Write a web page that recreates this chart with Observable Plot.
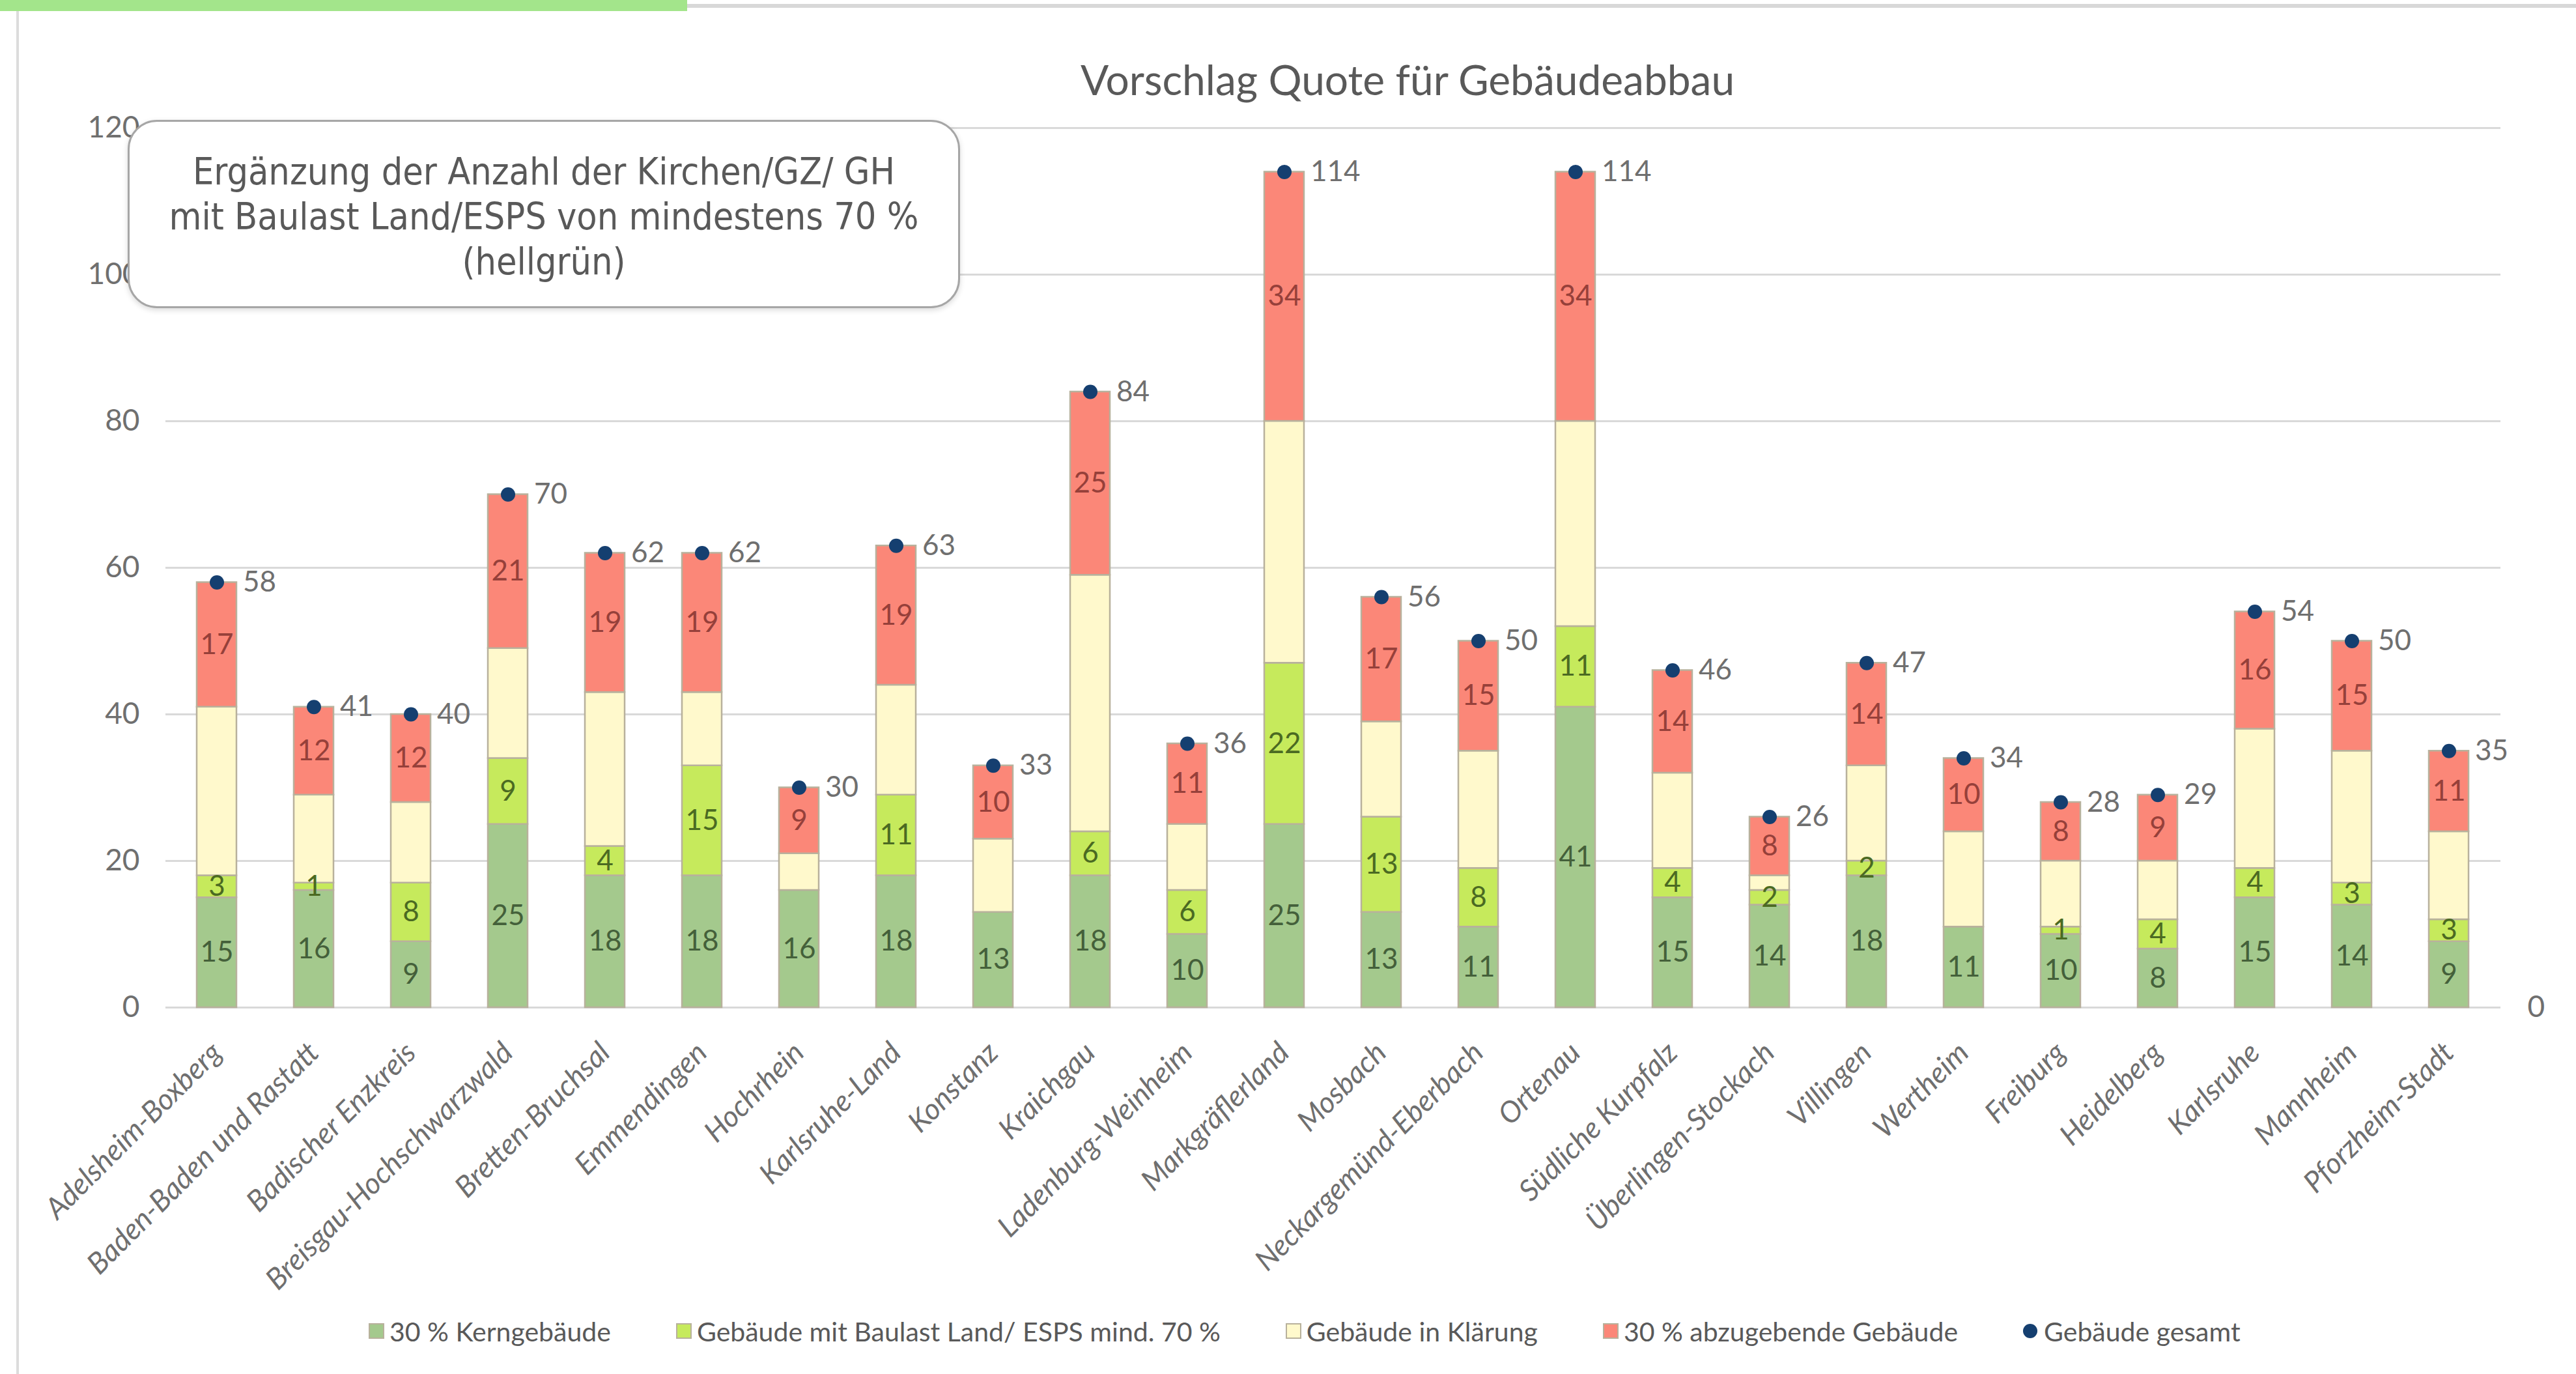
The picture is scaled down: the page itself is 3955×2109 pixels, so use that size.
<!DOCTYPE html>
<html><head><meta charset="utf-8">
<script src="https://cdn.jsdelivr.net/npm/d3@7"></script>
<script src="https://cdn.jsdelivr.net/npm/@observablehq/plot@0.6"></script>
<style>
html,body{margin:0;padding:0;background:#fff;}
#wrap{position:relative;width:3955px;height:2109px;overflow:hidden;font-family:Lato,sans-serif;background:#fff;}
#wrap svg{position:absolute;left:0;top:0;}
.deco{position:absolute;}
#title{position:absolute;left:2161px;top:90px;transform:translateX(-50%);font-size:64px;line-height:1;color:#595959;white-space:nowrap;}
#note{position:absolute;left:196px;top:184px;width:1278px;height:289px;box-sizing:border-box;border:3px solid #a6a6a6;border-radius:45px;background:#fff;box-shadow:0 3px 8px rgba(0,0,0,0.15);text-align:center;padding-top:42px;font-family:"DejaVu Sans Condensed","DejaVu Sans",sans-serif;font-size:57px;line-height:69px;color:#595959;white-space:nowrap;}
#legend{position:absolute;left:566px;top:2020px;height:46px;display:flex;align-items:center;gap:100px;font-size:41px;color:#595959;white-space:nowrap;}
.li{display:flex;align-items:center;}
.sw{width:24px;height:24px;box-sizing:border-box;margin-right:8px;}
.dot{width:22px;height:22px;border-radius:50%;margin-right:10px;}
</style></head>
<body><div id="wrap"></div>
<script>
const regions = ["Adelsheim-Boxberg","Baden-Baden und Rastatt","Badischer Enzkreis","Breisgau-Hochschwarzwald","Bretten-Bruchsal","Emmendingen","Hochrhein","Karlsruhe-Land","Konstanz","Kraichgau","Ladenburg-Weinheim","Markgräflerland","Mosbach","Neckargemünd-Eberbach","Ortenau","Südliche Kurpfalz","Überlingen-Stockach","Villingen","Wertheim","Freiburg","Heidelberg","Karlsruhe","Mannheim","Pforzheim-Stadt"];
const kern      = [15,16, 9,25,18,18,16,18,13,18,10,25,13,11,41,15,14,18,11,10, 8,15,14, 9];
const baulast   = [ 3, 1, 8, 9, 4,15, 0,11, 0, 6, 6,22,13, 8,11, 4, 2, 2, 0, 1, 4, 4, 3, 3];
const klaerung  = [23,12,11,15,21,10, 5,15,10,35, 9,33,13,16,28,13, 2,13,13, 9, 8,19,18,12];
const abzugeben = [17,12,12,21,19,19, 9,19,10,25,11,34,17,15,34,14, 8,14,10, 8, 9,16,15,11];
const gesamt    = [58,41,40,70,62,62,30,63,33,84,36,114,56,50,114,46,26,47,34,28,29,54,50,35];
const seriesNames = ["30 % Kerngebäude","Gebäude mit Baulast Land/ ESPS mind. 70 %","Gebäude in Klärung","30 % abzugebende Gebäude"];
const seriesColors = ["#A4C98D","#C6EA5C","#FFF9CC","#FB8778"];
const labelColors = ["#44603a","#4b6a22","#4a4a4a","#96403a"];
const segmentStroke = "#b8b19c";
const totalName = "Gebäude gesamt";
const totalColor = "#153F70";
const yTicks = [0,20,40,60,80,100,120];
const chartTitle = "Vorschlag Quote für Gebäudeabbau";
const noteLines = ["Ergänzung der Anzahl der Kirchen/GZ/ GH","mit Baulast Land/ESPS von mindestens 70 %","(hellgrün)"];

const seriesValues = [kern, baulast, klaerung, abzugeben];
const rows = [];
regions.forEach((r, i) => seriesNames.forEach((s, j) => rows.push({
  region: r, series: s, value: seriesValues[j][i],
  fill: seriesColors[j], labelColor: labelColors[j],
  labeled: j !== 2 && seriesValues[j][i] > 0
})));
const totals = regions.map((r, i) => ({region: r, total: gesamt[i]}));

const chart = Plot.plot({
  width: 3955, height: 2109,
  marginLeft: 254, marginRight: 116, marginTop: 196, marginBottom: 563,
  style: {fontFamily: "Lato, sans-serif", fontSize: "44px", color: "#595959", background: "transparent", overflow: "visible"},
  x: {domain: regions, paddingInner: 0.59, paddingOuter: 0.295, label: null},
  y: {domain: [0, 120], label: null},
  color: {type: "identity"},
  marks: [
    Plot.ruleY(yTicks, {stroke: "#D9D9D9", strokeWidth: 3}),
    Plot.axisY({ticks: yTicks, tickSize: 0, tickPadding: 40, fontSize: 46, fill: "#6f6f6f", label: null}),
    Plot.axisY({anchor: "right", ticks: [0], tickSize: 0, tickPadding: 41, fontSize: 46, fill: "#6f6f6f", label: null}),
    Plot.axisX({tickRotate: -45, tickSize: 0, tickPadding: 62, fontStyle: "italic", fontSize: 45, fill: "#6f6f6f", label: null}),
    Plot.barY(rows, {x: "region", y: "value", z: "series", order: seriesNames, fill: "fill", stroke: segmentStroke, strokeWidth: 2.5}),
    Plot.text(rows, Plot.stackY({x: "region", y: "value", z: "series", order: seriesNames,
      text: d => d.labeled ? String(d.value) : null, fill: "labelColor", fontSize: 44})),
    Plot.dot(totals, {x: "region", y: "total", r: 11, fill: totalColor}),
    Plot.text(totals, {x: "region", y: "total", text: d => String(d.total), dx: 40, textAnchor: "start", fill: "#6f6f6f", fontSize: 44})
  ]
});

const wrap = document.getElementById("wrap");
const d1 = document.createElement("div"); d1.className = "deco";
Object.assign(d1.style, {left: "0px", top: "0px", width: "1055px", height: "17px", background: "#A3E58B"});
const d2 = document.createElement("div"); d2.className = "deco";
Object.assign(d2.style, {left: "1055px", top: "6px", width: "2900px", height: "6px", background: "#d8d8d8"});
const d3 = document.createElement("div"); d3.className = "deco";
Object.assign(d3.style, {left: "25px", top: "17px", width: "4px", height: "2092px", background: "#dcdcdc"});
wrap.append(d1, d2, d3);
wrap.appendChild(chart);

const title = document.createElement("div");
title.id = "title"; title.textContent = chartTitle;
wrap.appendChild(title);

const note = document.createElement("div");
note.id = "note";
noteLines.forEach(t => { const l = document.createElement("div"); l.textContent = t; note.appendChild(l); });
wrap.appendChild(note);

const legend = document.createElement("div");
legend.id = "legend";
seriesNames.forEach((s, j) => {
  const it = document.createElement("div"); it.className = "li";
  const sw = document.createElement("span"); sw.className = "sw";
  sw.style.background = seriesColors[j]; sw.style.border = "2px solid " + segmentStroke;
  const tx = document.createElement("span"); tx.textContent = s;
  it.append(sw, tx); legend.appendChild(it);
});
{
  const it = document.createElement("div"); it.className = "li";
  const dt = document.createElement("span"); dt.className = "dot"; dt.style.background = totalColor;
  const tx = document.createElement("span"); tx.textContent = totalName;
  it.append(dt, tx); legend.appendChild(it);
}
wrap.appendChild(legend);
</script>
</body></html>
